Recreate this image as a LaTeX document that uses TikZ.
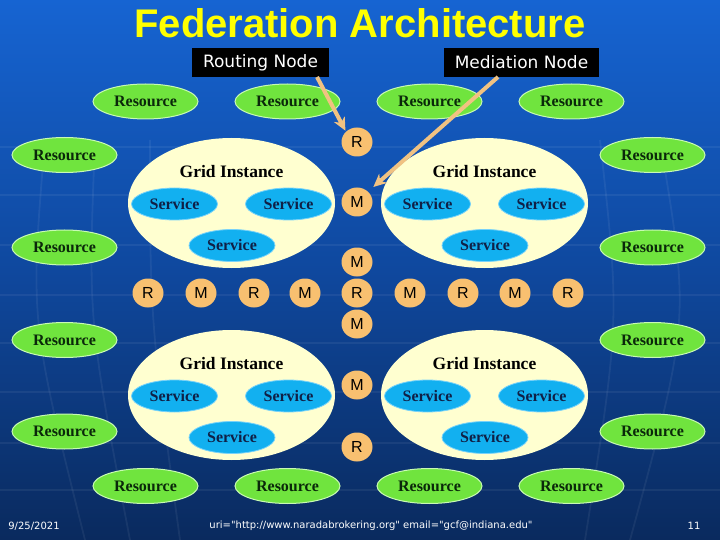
\documentclass[tikz,border=0pt]{standalone}
\usepackage{fontspec}
\setmainfont{Liberation Serif}
\newfontfamily\arialf{Liberation Sans}
\newfontfamily\dejaf{DejaVu Sans}
\usetikzlibrary{shapes.geometric,arrows.meta}
\definecolor{bgtop}{RGB}{22,100,210}
\definecolor{bgmid}{RGB}{15,72,158}
\definecolor{bgbot}{RGB}{10,42,94}
\definecolor{resfill}{RGB}{112,228,62}
\definecolor{resdraw}{RGB}{200,250,180}
\definecolor{restext}{RGB}{10,40,10}
\definecolor{svcfill}{RGB}{18,176,240}
\definecolor{svcdraw}{RGB}{120,210,250}
\definecolor{svctext}{RGB}{16,32,70}
\definecolor{gridfill}{RGB}{255,255,208}
\definecolor{rmfill}{RGB}{248,192,112}
\definecolor{arrowc}{RGB}{240,194,130}
\definecolor{titlec}{RGB}{255,255,0}
\begin{document}
\begin{tikzpicture}[x=1pt,y=-1pt,
  res/.style={ellipse,fill=resfill,draw=resdraw,line width=1pt,minimum width=105pt,minimum height=35pt,inner sep=0pt,text=restext,font=\fontsize{16}{18}\selectfont\bfseries},
  svc/.style={ellipse,fill=svcfill,draw=svcdraw,line width=0.8pt,minimum width=86pt,minimum height=32pt,inner sep=0pt,text=svctext,font=\fontsize{16}{18}\selectfont\bfseries},
  gridbox/.style={ellipse,fill=gridfill,minimum width=207pt,minimum height=130pt,inner sep=0pt},
  gridtitle/.style={text=black,font=\fontsize{17.5}{20}\selectfont\bfseries,inner sep=0pt},
  rm/.style={ellipse,fill=rmfill,minimum width=31pt,minimum height=29pt,inner sep=0pt,text=black,font=\arialf\fontsize{16}{18}\selectfont},
  labelbox/.style={fill=black,text=white,inner sep=0pt,minimum height=29pt,font=\dejaf\fontsize{17}{19}\selectfont},
  pointer/.style={draw=arrowc,line width=4pt,-{Stealth[length=13pt,width=12pt,inset=4pt]}},
  footer/.style={text=white,inner sep=0pt,font=\dejaf\fontsize{10}{12}\selectfont},
  bgline/.style={draw=white,opacity=0.06,line width=1.8pt}
]
% background
\shade[top color=bgtop,bottom color=bgbot,middle color=bgmid] (0,0) rectangle (720,540);
\useasboundingbox (0,0) rectangle (720,540);
% faint globe grid
\foreach \yy in {147,195,245,295,343,392,443,490}
  \draw[bgline] (0,\yy) -- (720,\yy);
\foreach \xa/\xb/\xc in {45/30/85,95/88/130,150/150/180,600/620/585,660/690/630}
  \draw[bgline] (\xa,140) .. controls (\xb,320) .. (\xc,540);
% title
\node[font=\arialf\bfseries\fontsize{40}{44}\selectfont,text=titlec,anchor=base,inner sep=0pt] (title) at (360,38) {Federation Architecture};
% label boxes
\node[labelbox,minimum width=137pt] (rn) at (260.5,62.5) {Routing Node};
\node[labelbox,minimum width=155pt] (mn) at (521.5,62.5) {Mediation Node};
% grid instances
\foreach \n/\gx/\gy in {g1/231.5/203,g2/484.5/203,g3/231.5/395,g4/484.5/395}{
  \node[gridbox] (\n) at (\gx,\gy) {};
  \node[gridtitle] (\n t) at (\gx,\gy-31) {Grid Instance};
  \node[svc] (\n a) at (\gx-57,\gy+1) {Service};
  \node[svc] (\n b) at (\gx+57,\gy+1) {Service};
  \node[svc] (\n c) at (\gx+0.5,\gy+42.5) {Service};
}
% resources
\foreach \n/\rx/\ry in {ra/145.5/101.5,rb/287.5/101.5,rc/429.5/101.5,rd/571.5/101.5,
  re/64.5/155,rf/64.5/247.5,rg/64.5/340,rh/64.5/431.5,
  ri/652.5/155,rj/652.5/247.5,rk/652.5/340,rl/652.5/431.5,
  rm1/145.5/486,rn1/287.5/486,ro/429.5/486,rp/571.5/486}
  \node[res] (\n) at (\rx,\ry) {Resource};
% routing / mediation nodes
\foreach \n/\cx/\cy/\t in {c0/357/142/R,c1/357/202/M,c2/357/262/M,c3/357/293/R,c4/357/324/M,c5/357/385/M,c6/357/447/R,
  h1/148/293/R,h2/201/293/M,h3/254/293/R,h4/305/293/M,h5/410/293/M,h6/463/293/R,h7/515/293/M,h8/568/293/R}
  \node[rm] (\n) at (\cx,\cy) {\t};
% pointers
\coordinate (rnfoot) at (317,77);
\coordinate (mnfoot) at (498,77);
\draw[pointer,shorten >=1pt] (rnfoot) -- (c0.north west);
\draw[pointer,shorten >=7pt] (mnfoot) -- (c1.north east);
% footer
\node[footer] (date) at (34,526) {9/25/2021};
\node[footer] (url) at (371,526) {uri="http://www.naradabrokering.org" email="gcf@indiana.edu"};
\node[footer] (page) at (694,526) {11};
\end{tikzpicture}
\end{document}
